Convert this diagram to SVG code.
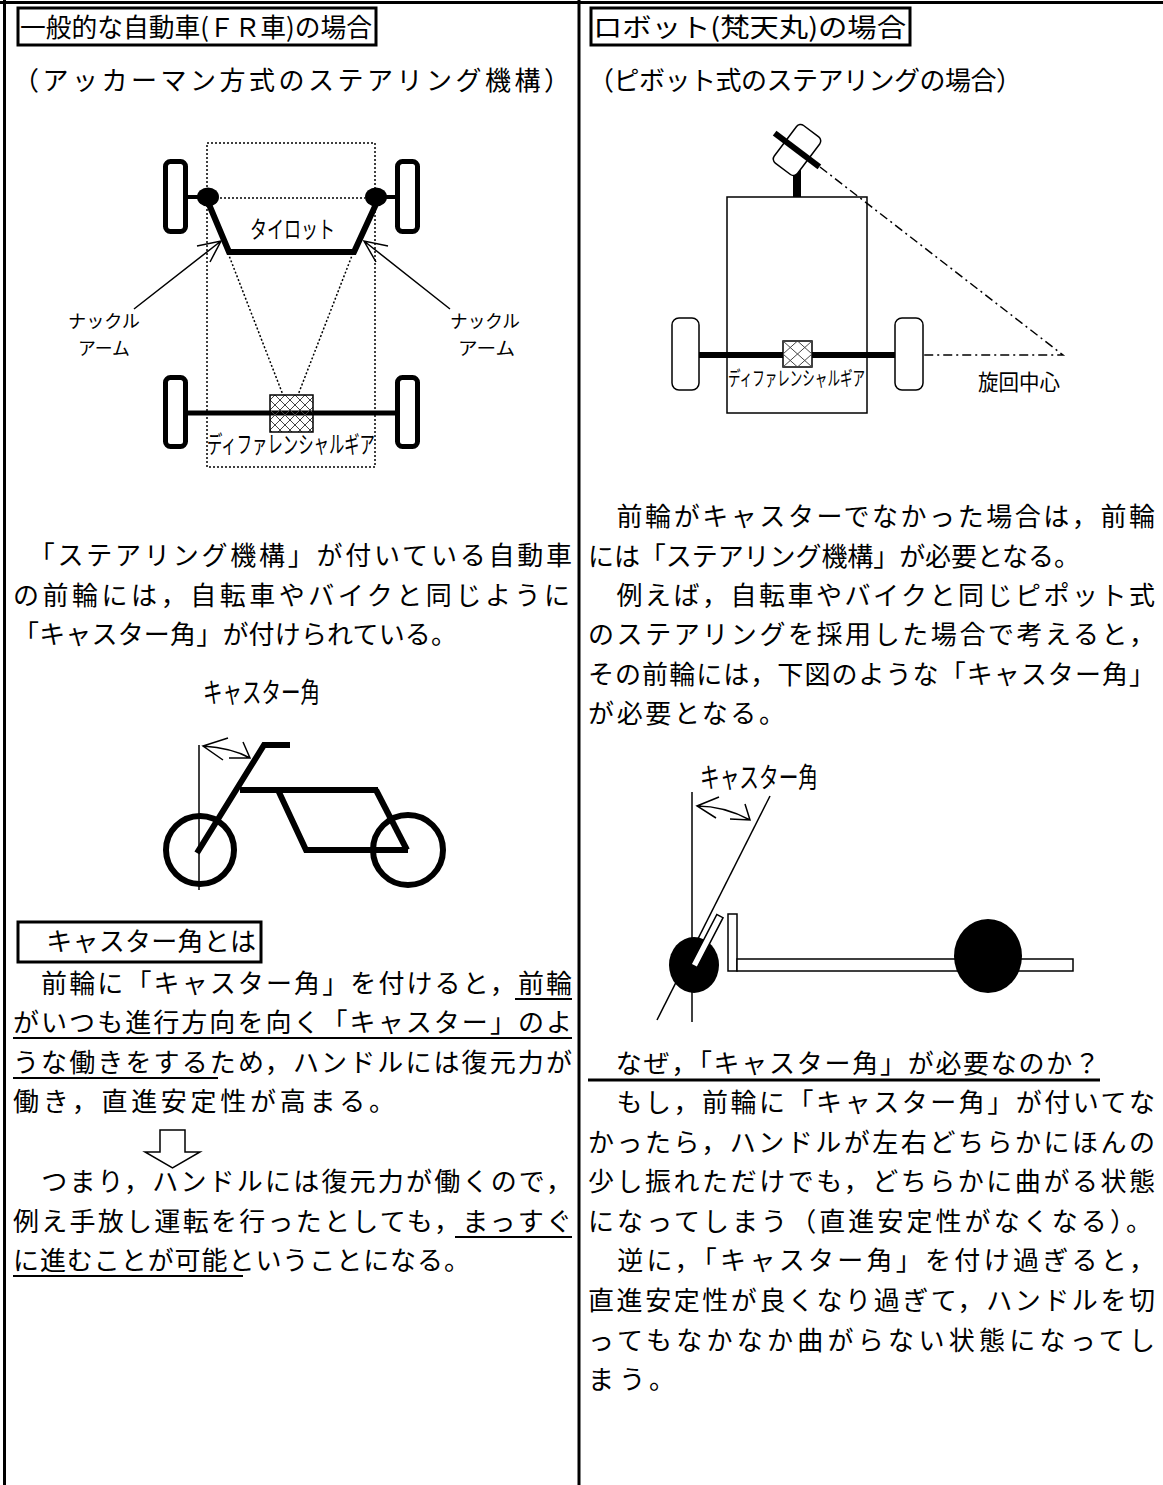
<svg xmlns="http://www.w3.org/2000/svg" width="1163" height="1485" viewBox="0 0 1163 1485">
  <style>
    .t { font-family: "Noto Sans CJK JP", "Noto Sans", sans-serif; font-size: 26px; fill: #000; }
    .lb { font-family: "Noto Sans CJK JP", "Noto Sans", sans-serif; fill: #000; }
    .thin { fill: none; stroke: #000; stroke-width: 1.5; }
    .thick { fill: none; stroke: #000; stroke-width: 6; stroke-linejoin: miter; }
    .dot { fill: none; stroke: #000; stroke-width: 1.5; stroke-dasharray: 2 2; }
    .ul { stroke: #000; stroke-width: 2; }
  </style>
  <defs>
    <pattern id="hatch" width="10" height="10" patternUnits="userSpaceOnUse">
      <path d="M0,0L10,10M10,0L0,10" stroke="#444" stroke-width="1"/>
    </pattern>
    <pattern id="hatch2" x="783" y="341" width="29" height="26" patternUnits="userSpaceOnUse">
      <path d="M0,0L29,26M29,0L0,26M14.5,0L0,13L14.5,26L29,13Z" fill="none" stroke="#444" stroke-width="1"/>
    </pattern>
  </defs>
  <rect width="1163" height="1485" fill="#fff"/>

  <!-- page frame -->
  <g id="frame" stroke="#000" stroke-width="3">
    <line x1="0" y1="2.5" x2="1163" y2="2.5"/>
    <line x1="4.5" y1="0" x2="4.5" y2="1485"/>
    <line x1="579" y1="0" x2="579" y2="1485"/>
  </g>

  <!-- left column headings -->
  <g id="title-left">
    <rect x="18" y="8" width="358" height="37" fill="none" stroke="#000" stroke-width="3"/>
    <text class="t" x="20" y="37" textLength="352" lengthAdjust="spacingAndGlyphs">一般的な自動車(ＦＲ車)の場合</text>
    <text class="t" x="13" y="90" textLength="557" lengthAdjust="spacing">（アッカーマン方式のステアリング機構）</text>
  </g>

  <!-- right column headings -->
  <g id="title-right">
    <rect x="591" y="8" width="319" height="37" fill="none" stroke="#000" stroke-width="3"/>
    <text class="t" x="593" y="37" textLength="313" lengthAdjust="spacingAndGlyphs">ロボット(梵天丸)の場合</text>
    <text class="t" x="588" y="90" textLength="434" lengthAdjust="spacing">（ピボット式のステアリングの場合）</text>
  </g>

  <!-- Ackermann car -->
  <g id="car">
    <rect class="dot" x="207" y="143" width="168" height="324"/>
    <line class="dot" x1="220" y1="198" x2="365" y2="198"/>
    <line class="dot" x1="228" y1="253" x2="283" y2="395"/>
    <line class="dot" x1="353" y1="253" x2="298" y2="395"/>
    <!-- front wheels and knuckles -->
    <rect x="165.5" y="161.5" width="20" height="70" rx="5" fill="#fff" stroke="#000" stroke-width="5"/>
    <rect x="397.5" y="161.5" width="20" height="70" rx="5" fill="#fff" stroke="#000" stroke-width="5"/>
    <line x1="186" y1="197" x2="200" y2="197" stroke="#000" stroke-width="4"/>
    <line x1="383" y1="197" x2="397" y2="197" stroke="#000" stroke-width="4"/>
    <ellipse cx="208" cy="197" rx="11" ry="9.5" fill="#000"/>
    <ellipse cx="376" cy="197" rx="11" ry="9.5" fill="#000"/>
    <!-- tie rod -->
    <polyline class="thick" points="208,202 229,252 354,252 377,202"/>
    <text class="lb" x="250" y="238" font-size="24" textLength="85" lengthAdjust="spacingAndGlyphs">タイロット</text>
    <!-- rear wheels and axle -->
    <line x1="186" y1="413" x2="397" y2="413" stroke="#000" stroke-width="5"/>
    <rect x="165.5" y="377.5" width="20" height="69" rx="5" fill="#fff" stroke="#000" stroke-width="5"/>
    <rect x="397.5" y="377.5" width="20" height="69" rx="5" fill="#fff" stroke="#000" stroke-width="5"/>
    <rect x="270" y="395" width="43" height="37" fill="url(#hatch)" stroke="#000" stroke-width="1.5"/>
    <text class="lb" x="207" y="453" font-size="24" textLength="168" lengthAdjust="spacingAndGlyphs">ディファレンシャルギア</text>
  </g>

  <!-- knuckle arm labels with pointers -->
  <g id="knuckle-left">
    <path class="thin" d="M134,309 L221,241 M197,246 L221,241 L210,262"/>
    <text class="lb" x="68" y="328" font-size="18" textLength="72" lengthAdjust="spacingAndGlyphs">ナックル</text>
    <text class="lb" x="78" y="355" font-size="18" textLength="52" lengthAdjust="spacingAndGlyphs">アーム</text>
  </g>
  <g id="knuckle-right">
    <path class="thin" d="M450,309 L364,241 M388,246 L364,241 L376,262"/>
    <text class="lb" x="450" y="328" font-size="18" textLength="70" lengthAdjust="spacingAndGlyphs">ナックル</text>
    <text class="lb" x="458" y="355" font-size="18" textLength="57" lengthAdjust="spacingAndGlyphs">アーム</text>
  </g>

  <!-- pivot-steering robot -->
  <g id="robot">
    <rect x="727" y="197" width="140" height="216" fill="#fff" stroke="#000" stroke-width="1.5"/>
    <path d="M820,167 L1063,355 L923,355" fill="none" stroke="#000" stroke-width="1.5" stroke-dasharray="9 4 2 4"/>
    <rect x="793" y="150" width="8" height="47" fill="#000"/>
    <g transform="translate(797,150) rotate(37)">
      <rect x="-14.5" y="-23.5" width="29" height="47" rx="5" fill="#fff" stroke="#000" stroke-width="1.5"/>
      <line x1="-28" y1="0" x2="28" y2="0" stroke="#000" stroke-width="6"/>
    </g>
    <line x1="699" y1="355" x2="895" y2="355" stroke="#000" stroke-width="6"/>
    <rect x="672" y="318" width="27" height="72" rx="7" fill="#fff" stroke="#000" stroke-width="1.5"/>
    <rect x="895" y="318" width="28" height="72" rx="7" fill="#fff" stroke="#000" stroke-width="1.5"/>
    <rect x="783" y="341" width="29" height="26" fill="#fff" stroke="#000" stroke-width="1.5"/>
    <rect x="783" y="341" width="29" height="26" fill="url(#hatch2)"/>
    <text class="lb" x="728" y="386" font-size="20" textLength="137" lengthAdjust="spacingAndGlyphs">ディファレンシャルギア</text>
    <text class="lb" x="978" y="390" font-size="22" textLength="82" lengthAdjust="spacingAndGlyphs">旋回中心</text>
  </g>

  <!-- left column body text -->
  <g id="text-left">
    <text class="t" x="13" y="565" textLength="559" lengthAdjust="spacing">　「ステアリング機構」が付いている自動車</text>
    <text class="t" x="13" y="605" textLength="557" lengthAdjust="spacing">の前輪には，自転車やバイクと同じように</text>
    <text class="t" x="13" y="644" textLength="444" lengthAdjust="spacing">「キャスター角」が付けられている。</text>
  </g>

  <!-- motorcycle with caster angle -->
  <g id="bike">
    <text class="lb" x="203" y="703" font-size="28" textLength="117" lengthAdjust="spacingAndGlyphs">キャスター角</text>
    <line class="thin" x1="199" y1="745" x2="199" y2="890"/>
    <path class="thin" d="M203,746 Q232,748 250,758 M228,738 L203,746 L223,760 M243,742 L250,758 L229,758"/>
    <polyline class="thick" points="197,853 264,745 290,745"/>
    <line class="thick" x1="240" y1="790" x2="378" y2="790"/>
    <polyline class="thick" points="376,790 407,850"/>
    <polyline class="thick" points="278,790 306,850 408,850"/>
    <circle cx="200" cy="850" r="34" fill="none" stroke="#000" stroke-width="6"/>
    <circle cx="408" cy="850" r="35" fill="none" stroke="#000" stroke-width="6"/>
  </g>

  <g id="text-left-2">
    <rect x="18" y="922" width="243" height="40" fill="none" stroke="#000" stroke-width="3"/>
    <text class="t" x="20" y="951" textLength="236" lengthAdjust="spacing">　キャスター角とは</text>
    <text class="t" x="13" y="993" textLength="559" lengthAdjust="spacing">　前輪に「キャスター角」を付けると，前輪</text>
    <line class="ul" x1="515" y1="999" x2="572" y2="999"/>
    <text class="t" x="13" y="1032" textLength="559" lengthAdjust="spacing">がいつも進行方向を向く「キャスター」のよ</text>
    <line class="ul" x1="13" y1="1038" x2="572" y2="1038"/>
    <text class="t" x="13" y="1072" textLength="559" lengthAdjust="spacing">うな働きをするため，ハンドルには復元力が</text>
    <line class="ul" x1="13" y1="1078" x2="218" y2="1078"/>
    <text class="t" x="13" y="1111" textLength="382" lengthAdjust="spacing">働き，直進安定性が高まる。</text>
    <polygon points="160,1130 185,1130 185,1152 200,1152 172.5,1168 145,1152 160,1152" fill="#fff" stroke="#000" stroke-width="1.5"/>
    <text class="t" x="13" y="1191" textLength="559" lengthAdjust="spacing">　つまり，ハンドルには復元力が働くので，</text>
    <text class="t" x="13" y="1231" textLength="559" lengthAdjust="spacing">例え手放し運転を行ったとしても，まっすぐ</text>
    <line class="ul" x1="455" y1="1237" x2="572" y2="1237"/>
    <text class="t" x="13" y="1270" textLength="457" lengthAdjust="spacing">に進むことが可能ということになる。</text>
    <line class="ul" x1="13" y1="1276" x2="243" y2="1276"/>
  </g>

  <!-- right column body text -->
  <g id="text-right">
    <text class="t" x="588" y="526" textLength="567" lengthAdjust="spacing">　前輪がキャスターでなかった場合は，前輪</text>
    <text class="t" x="588" y="566" textLength="492" lengthAdjust="spacing">には「ステアリング機構」が必要となる。</text>
    <text class="t" x="588" y="605" textLength="567" lengthAdjust="spacing">　例えば，自転車やバイクと同じピポット式</text>
    <text class="t" x="588" y="644" textLength="567" lengthAdjust="spacing">のステアリングを採用した場合で考えると，</text>
    <text class="t" x="588" y="684" textLength="567" lengthAdjust="spacing">その前輪には，下図のような「キャスター角」</text>
    <text class="t" x="588" y="723" textLength="197" lengthAdjust="spacing">が必要となる。</text>
  </g>

  <!-- caster angle side view -->
  <g id="caster">
    <text class="lb" x="700" y="788" font-size="28" textLength="118" lengthAdjust="spacingAndGlyphs">キャスター角</text>
    <line class="thin" x1="692" y1="792" x2="692" y2="1022"/>
    <line class="thin" x1="657" y1="1020" x2="770" y2="796"/>
    <path class="thin" d="M697,806 Q724,806 750,820 M719,797 L697,806 L716,818 M745,804 L750,820 L730,819"/>
    <ellipse cx="694" cy="965" rx="25" ry="28" fill="#000"/>
    <g transform="translate(707,941) rotate(27.5)">
      <rect x="-3.5" y="-28" width="7" height="56" fill="#fff" stroke="#000" stroke-width="1.5"/>
    </g>
    <rect x="728" y="914" width="9" height="57" fill="#fff" stroke="#000" stroke-width="1.5"/>
    <rect x="737" y="959" width="336" height="12" fill="#fff" stroke="#000" stroke-width="1.5"/>
    <ellipse cx="988" cy="956" rx="34" ry="37" fill="#000"/>
  </g>

  <g id="text-right-2">
    <text class="t" x="588" y="1073" textLength="512" lengthAdjust="spacing">　なぜ，「キャスター角」が必要なのか？</text>
    <line x1="588" y1="1080" x2="1100" y2="1080" stroke="#000" stroke-width="3"/>
    <text class="t" x="588" y="1112" textLength="567" lengthAdjust="spacing">　もし，前輪に「キャスター角」が付いてな</text>
    <text class="t" x="588" y="1152" textLength="567" lengthAdjust="spacing">かったら，ハンドルが左右どちらかにほんの</text>
    <text class="t" x="588" y="1191" textLength="567" lengthAdjust="spacing">少し振れただけでも，どちらかに曲がる状態</text>
    <text class="t" x="588" y="1231" textLength="564" lengthAdjust="spacing">になってしまう（直進安定性がなくなる）。</text>
    <text class="t" x="588" y="1270" textLength="567" lengthAdjust="spacing">　逆に，「キャスター角」を付け過ぎると，</text>
    <text class="t" x="588" y="1310" textLength="567" lengthAdjust="spacing">直進安定性が良くなり過ぎて，ハンドルを切</text>
    <text class="t" x="588" y="1350" textLength="567" lengthAdjust="spacing">ってもなかなか曲がらない状態になってし</text>
    <text class="t" x="588" y="1389" textLength="87" lengthAdjust="spacing">まう。</text>
  </g>
</svg>
